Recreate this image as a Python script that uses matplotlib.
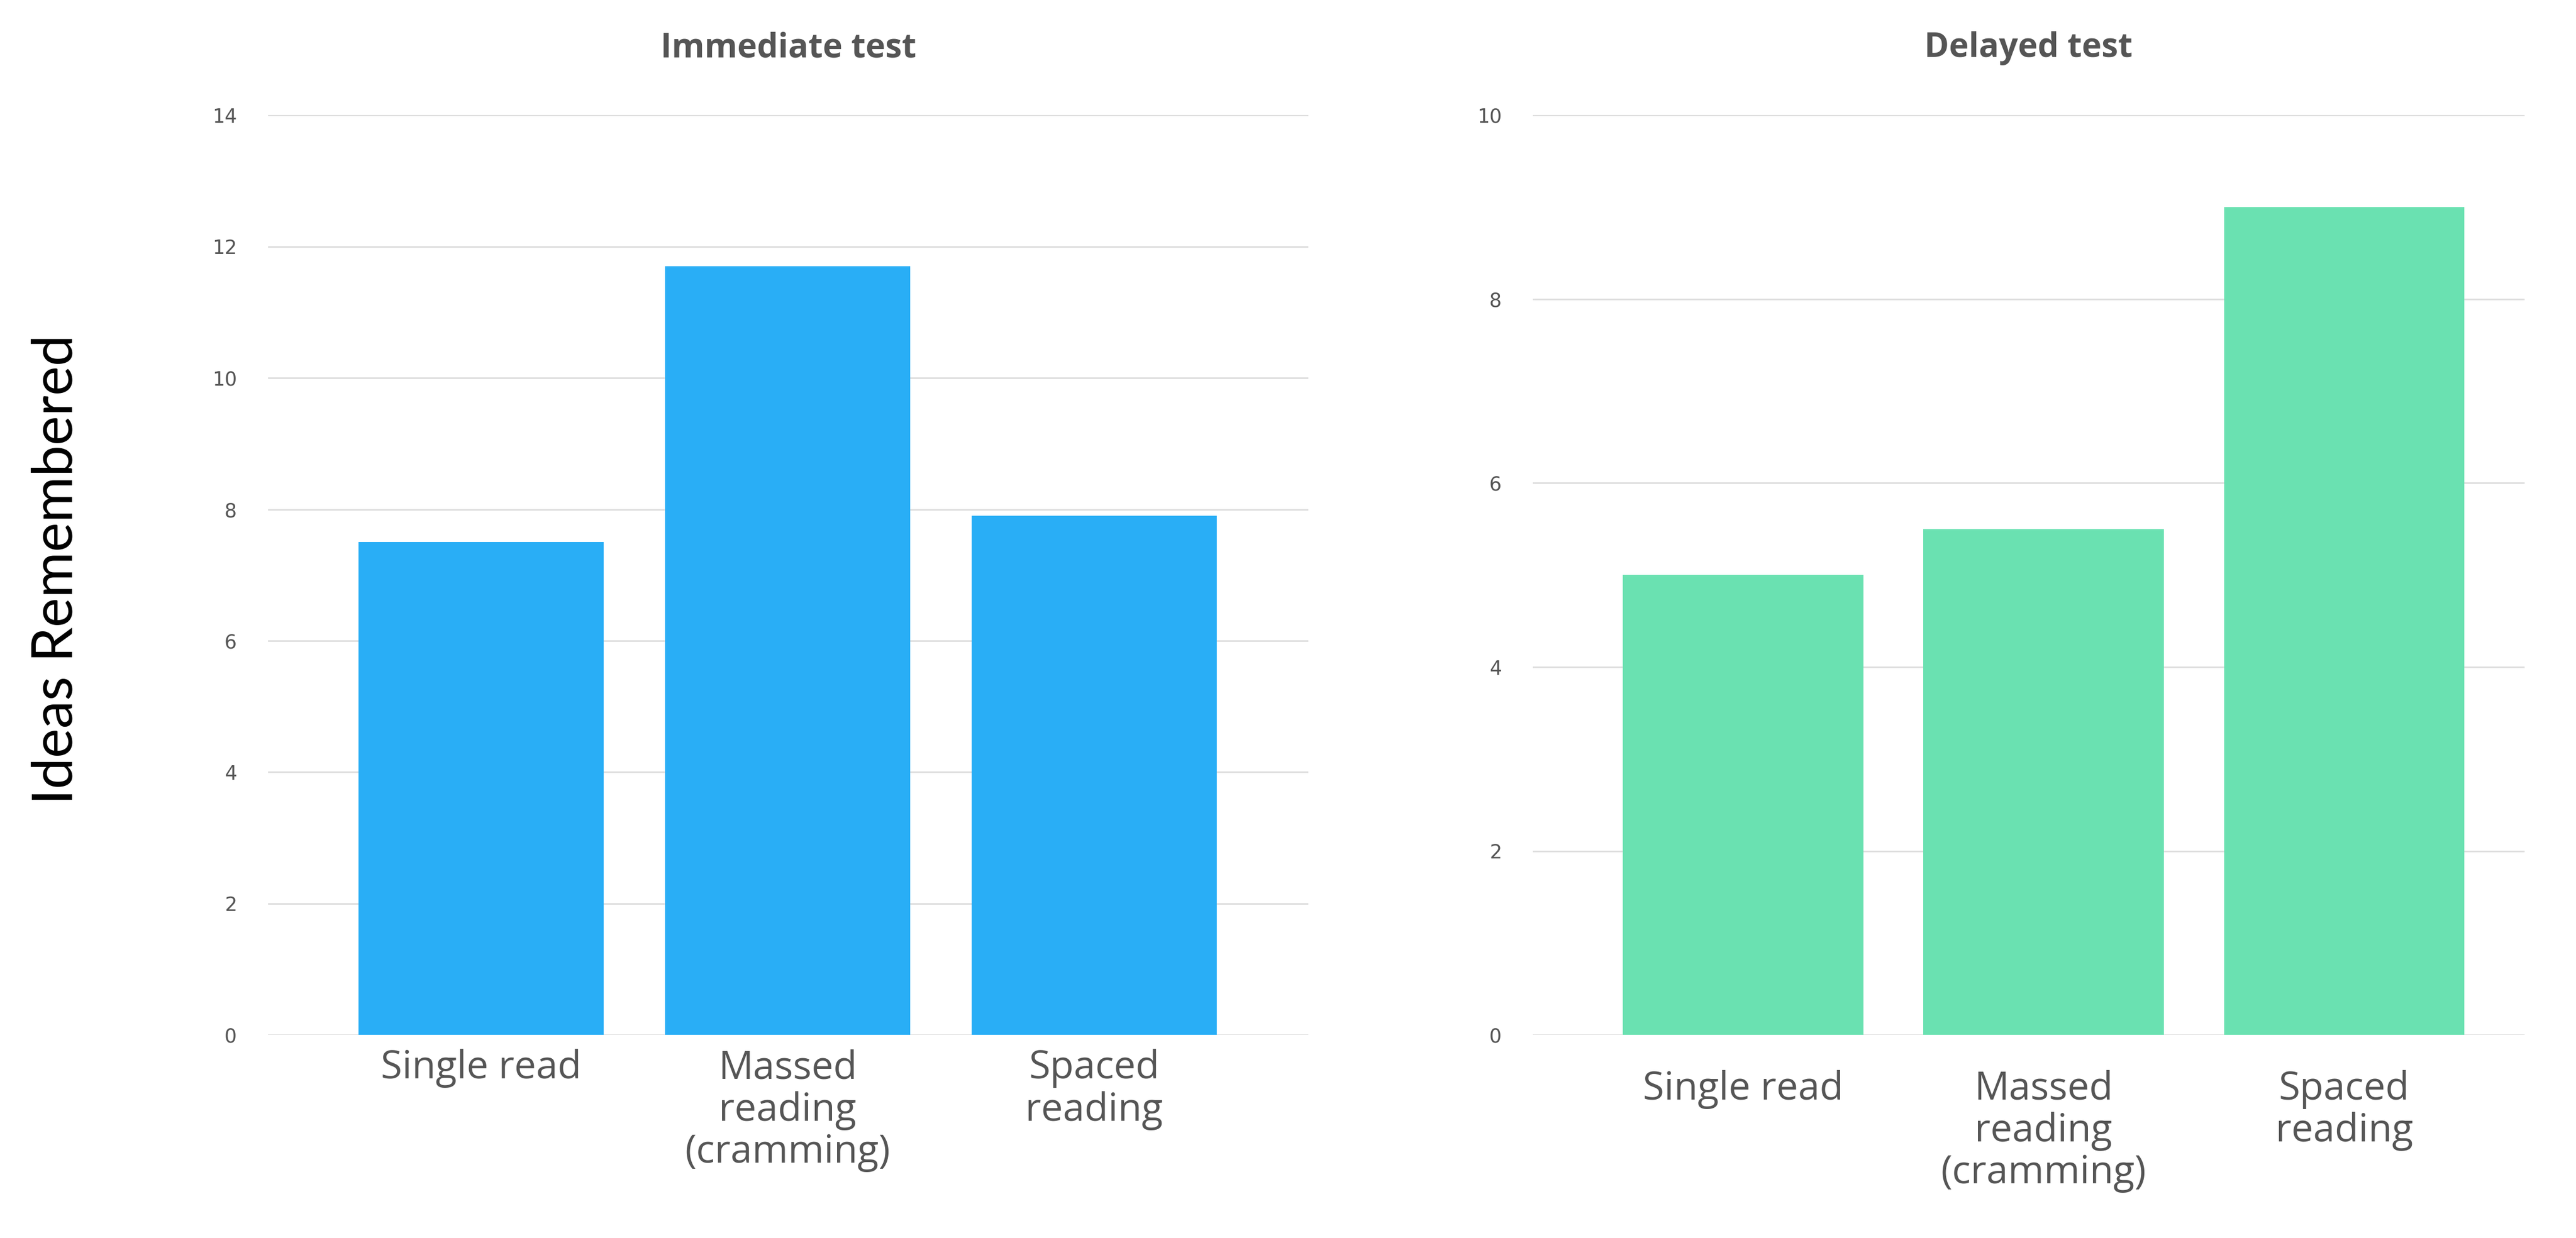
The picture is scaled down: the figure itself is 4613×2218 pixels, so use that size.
import matplotlib

matplotlib.use("Agg")
import matplotlib.pyplot as plt

categories = ["Single read", "Massed\nreading\n(cramming)", "Spaced\nreading"]
immediate = [7.5, 11.7, 7.9]
delayed = [5.0, 5.5, 9.0]

fig = plt.figure(figsize=(46.13, 22.18), dpi=100)
ax1 = fig.add_axes([0.104, 0.164, 0.404, 0.743])
ax2 = fig.add_axes([0.595, 0.164, 0.385, 0.743])

panels = [
    (ax1, immediate, "#29AEF6", "Immediate test", 14, (-0.695, 2.70), 18),
    (ax2, delayed, "#6AE1B1", "Delayed test", 10, (-0.70, 2.60), 45),
]
for ax, vals, color, title, ymax, xlim, pad in panels:
    ax.bar(range(len(vals)), vals, width=0.8, color=color, zorder=3)
    ax.set_ylim(0, ymax)
    ax.set_xlim(*xlim)
    ax.set_yticks(range(0, ymax + 1, 2))
    ax.grid(axis="y", color="#DDDDDD", linewidth=2, zorder=0)
    for s in ax.spines.values():
        s.set_visible(False)
    ax.set_xticks(range(len(vals)))
    ax.set_xticklabels(categories, fontsize=50, color="#555555",
                       family="Open Sans", linespacing=1.1, va="top")
    ax.tick_params(axis="x", length=0, pad=pad)
    ax.tick_params(axis="y", length=0, labelsize=25, labelcolor="#555555", pad=40)
    ax.set_title(title, fontsize=43, fontweight="bold", color="#555555",
                 family="Open Sans", pad=75)

fig.text(0.022, 0.54, "Ideas Remembered", rotation=90, fontsize=72,
         family="Lato", va="center", ha="center", color="black")

fig.savefig("out.png", dpi=100)
